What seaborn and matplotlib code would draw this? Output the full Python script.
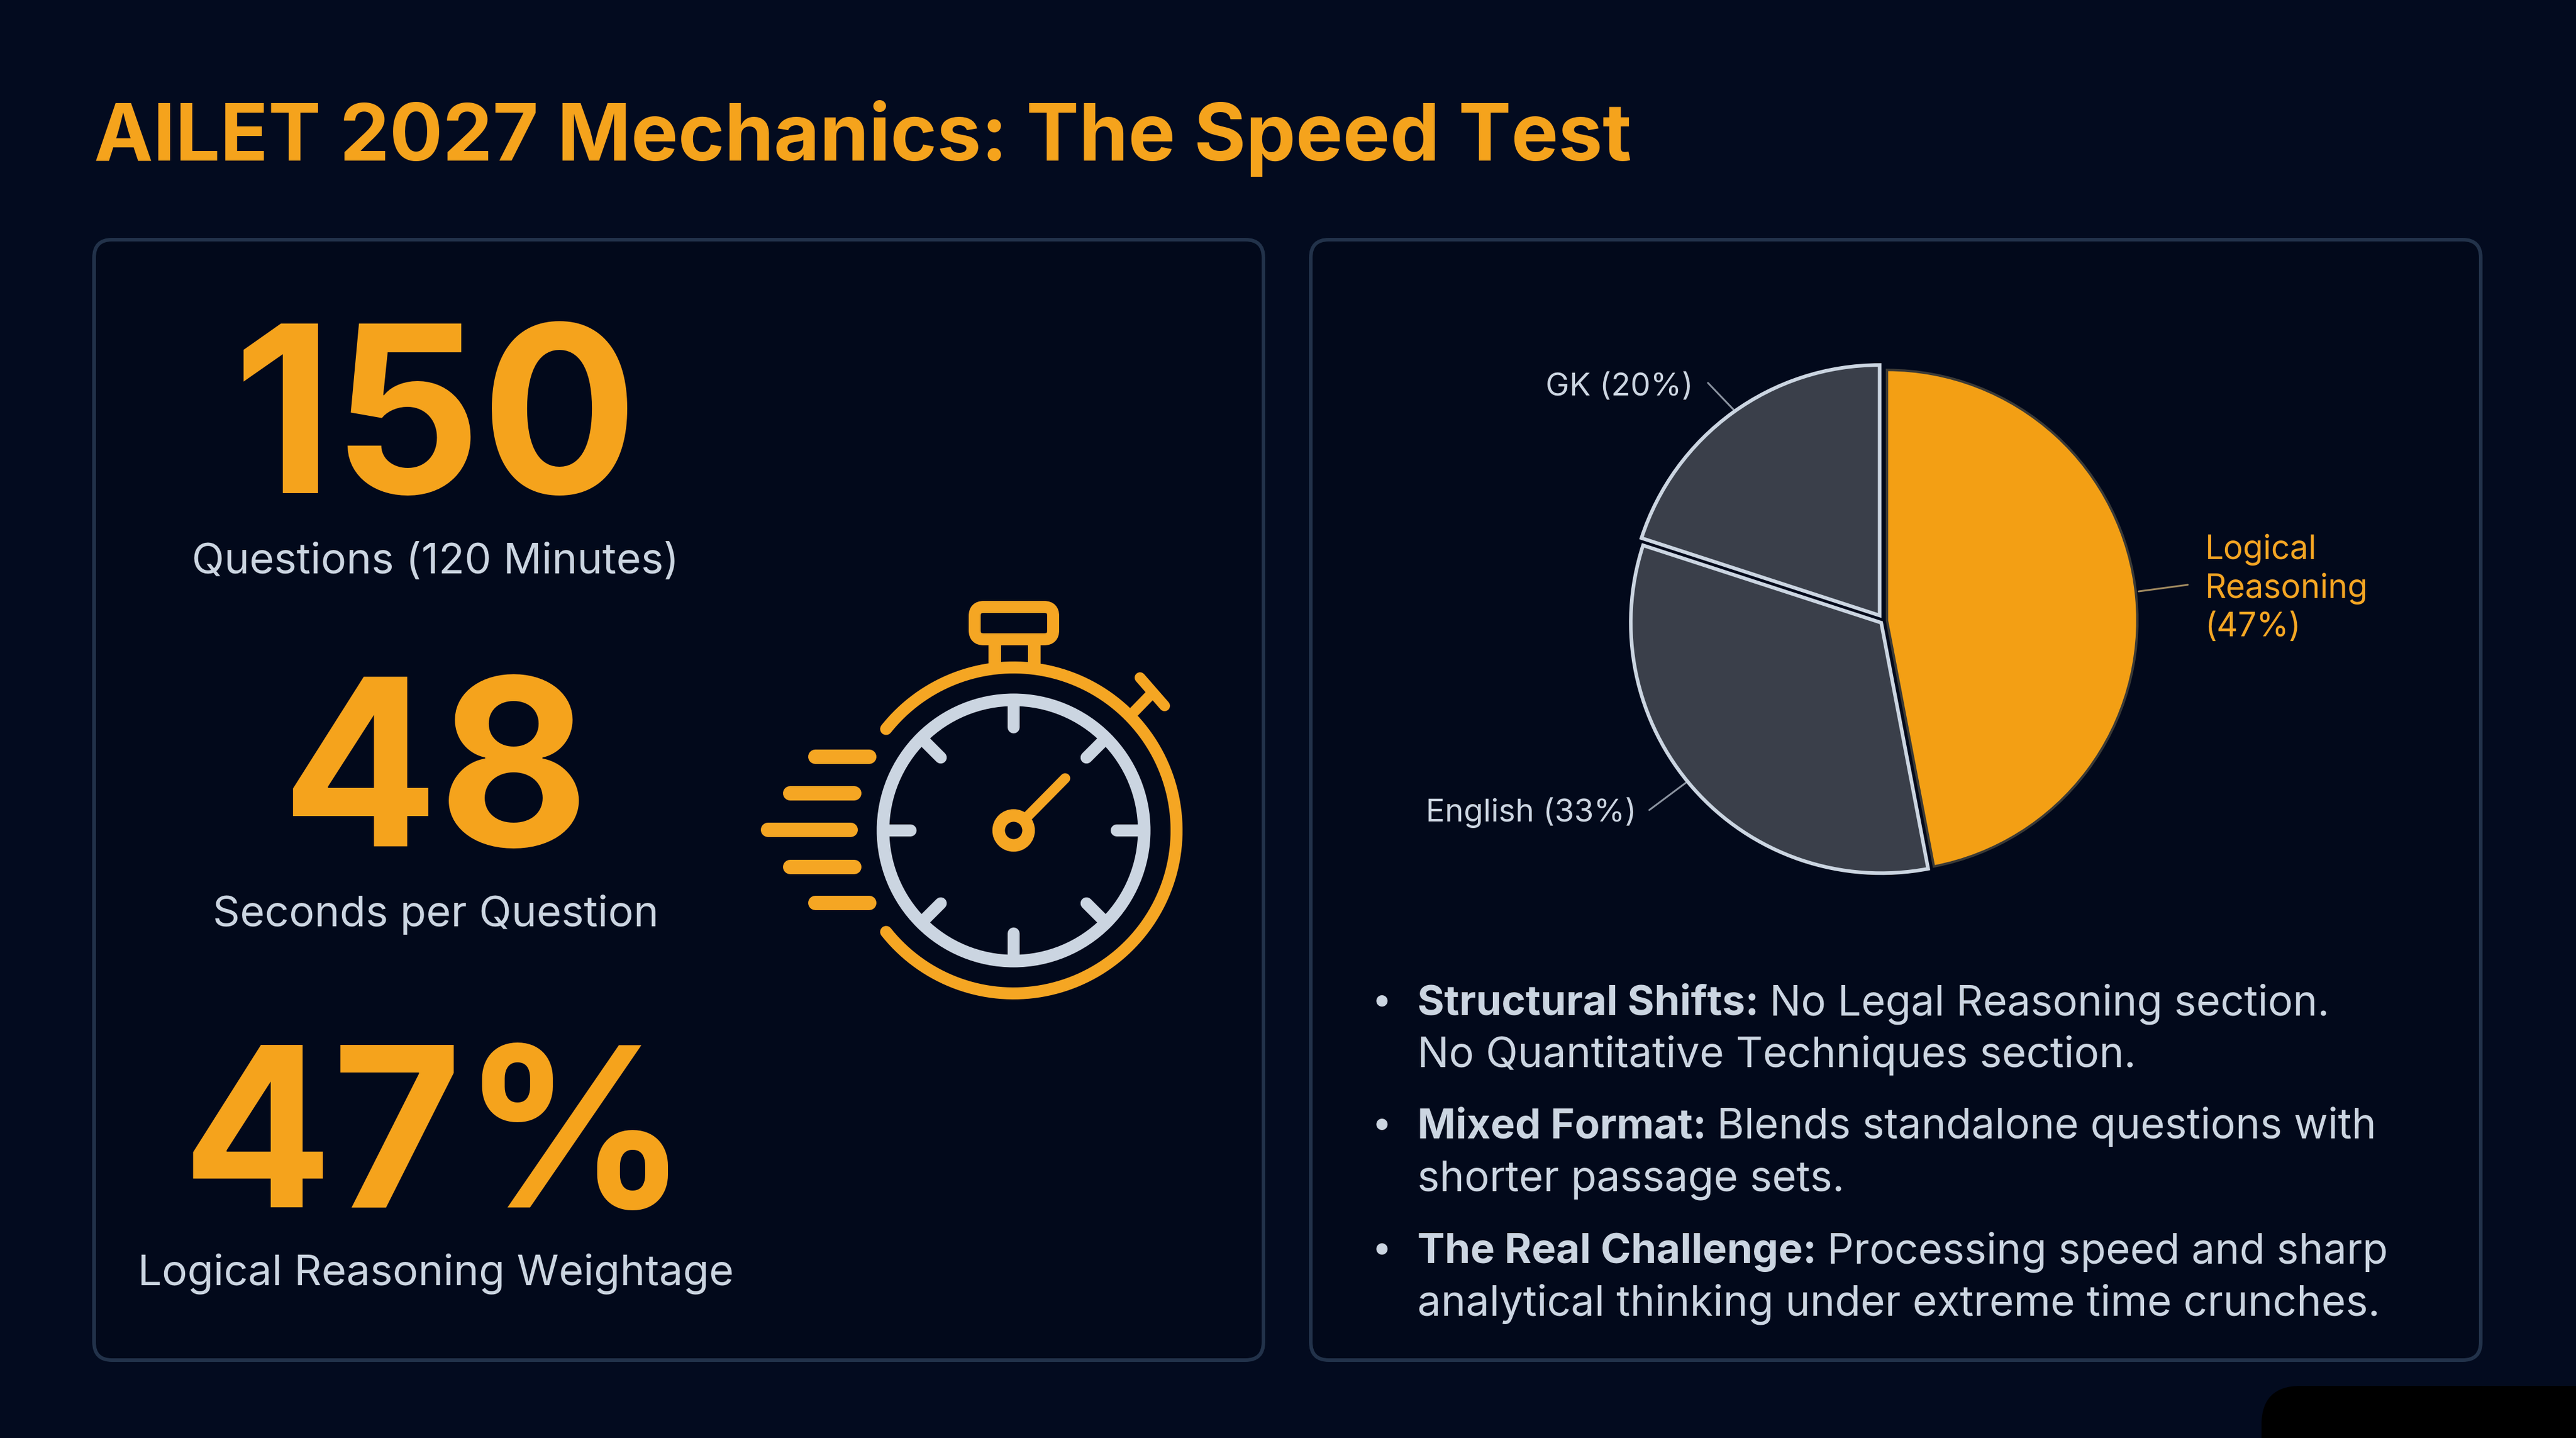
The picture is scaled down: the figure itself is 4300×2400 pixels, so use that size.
import numpy as np
import matplotlib
matplotlib.use("Agg")
import matplotlib.pyplot as plt
from matplotlib.patches import FancyBboxPatch, Circle
import seaborn as sns

# data
slice_names = ["Logical\nReasoning\n(47%)", "English (33%)", "GK (20%)"]
slice_values = [47, 33, 20]
big_numbers = ["150", "48", "47%"]
big_labels = ["Questions (120 Minutes)", "Seconds per Question", "Logical Reasoning Weightage"]
bullet_heads = ["Structural Shifts:", "Mixed Format:", "The Real Challenge:"]
bullet_first = ["No Legal Reasoning section.", "Blends standalone questions with", "Processing speed and sharp"]
bullet_second = ["No Quantitative Techniques section.", "shorter passage sets.", "analytical thinking under extreme time crunches."]
title = "AILET 2027 Mechanics: The Speed Test"

BG = "#030b1f"
PANEL = "#02091b"
BORDER = "#22324a"
ORANGE = "#f5a31c"
PIE_ORANGE = "#f39f14"
ICON = "#f5a623"
LIGHT = "#cbd5e1"
GREY = "#3a3f4a"

sns.set_theme(style="dark", rc={"figure.facecolor": BG, "axes.facecolor": BG})
plt.rcParams["font.family"] = ["Inter", "DejaVu Sans"]
palette = sns.color_palette([PIE_ORANGE, GREY, GREY])


def pt(px):
    return px * 0.72


fig = plt.figure(figsize=(43, 24), dpi=100, facecolor=BG)
# overlay axes in pixel coordinates
ax = fig.add_axes([0, 0, 1, 1])
ax.set_xlim(0, 4300)
ax.set_ylim(2400, 0)
ax.axis("off")

# panels
for x0, x1 in [(157, 2109), (2188, 4141)]:
    ax.add_patch(FancyBboxPatch((x0 + 30, 430), x1 - x0 - 60, 1810,
                                boxstyle="round,pad=30,rounding_size=30",
                                fc=PANEL, ec=BORDER, lw=pt(6)))

# black blob bottom right
ax.add_patch(FancyBboxPatch((3840, 2378), 700, 100, boxstyle="round,pad=65,rounding_size=65",
                            fc="black", ec="none", clip_on=True))

ax.text(157, 268, title, color=ORANGE, fontsize=pt(132), fontweight="bold", va="baseline")

# left stats
num_y = [823, 1412, 2015]
num_px = [388, 388, 372]
num_x = [727, 727, 727]
lab_y = [957, 1546, 2144]
for num, lab, x, y1, y2, size in zip(big_numbers, big_labels, num_x, num_y, lab_y, num_px):
    ax.text(x, y1, num, color=ORANGE, fontsize=pt(size), fontweight="bold", ha="center", va="baseline")
    ax.text(727, y2, lab, color=LIGHT, fontsize=pt(71), ha="center", va="baseline")

# stopwatch
cx, cy = 1692, 1386


def stroke(xs, ys, color, width, cap="round"):
    ax.plot(xs, ys, color=color, lw=pt(width), solid_capstyle=cap)


for y, x0, x1 in [(1263, 1361, 1451), (1324, 1319, 1426), (1385, 1282, 1420), (1447, 1319, 1426), (1507, 1361, 1451)]:
    stroke([x0, x1], [y, y], ICON, 24)

t = np.radians(np.linspace(-141.5, 141.5, 300))
stroke(cx + 272 * np.cos(t), cy - 272 * np.sin(t), ICON, 20)
ax.add_patch(Circle((cx, cy), 218, fc="none", ec=LIGHT, lw=pt(21)))
for a in np.radians(np.arange(0, 360, 45)):
    stroke([cx + 215 * np.cos(a), cx + 172 * np.cos(a)], [cy + 215 * np.sin(a), cy + 172 * np.sin(a)], LIGHT, 20)

# crown and buttons
ax.add_patch(FancyBboxPatch((1642, 1028), 101, 24, boxstyle="round,pad=15,rounding_size=15",
                            fc="none", ec=ICON, lw=pt(20)))
stroke([1660, 1660], [1075, 1118], ICON, 21, "butt")
stroke([1726, 1726], [1075, 1118], ICON, 21, "butt")
stroke([1889, 1925], [1192, 1155], ICON, 18, "butt")
stroke([1903, 1944], [1131, 1178], ICON, 18)

# hand
stroke([cx + 18, 1778], [cy - 18, 1299], ICON, 17)
ax.add_patch(Circle((cx, cy), 25, fc="none", ec=ICON, lw=pt(21)))

# pie
pie_cx, pie_cy, pie_r = 3144, 1036, 418
pad = 1.1
pie_ax = fig.add_axes([(pie_cx - pie_r * pad) / 4300, 1 - (pie_cy + pie_r * pad) / 2400,
                       2 * pie_r * pad / 4300, 2 * pie_r * pad / 2400])
wedges, _ = pie_ax.pie(slice_values, colors=palette, startangle=90, counterclock=False,
                       explode=[0.014, 0.012, 0.026], radius=1)
pie_ax.set_xlim(-pad, pad)
pie_ax.set_ylim(-pad, pad)
pie_ax.set_facecolor("none")
wedges[0].set(edgecolor="#3b3a36", linewidth=pt(4))
wedges[1].set(edgecolor=LIGHT, linewidth=pt(6))
wedges[2].set(edgecolor=LIGHT, linewidth=pt(6))

# pie labels and leader lines
ax.text(2580, 660, slice_names[2], color=LIGHT, fontsize=pt(53), va="baseline")
ax.text(2380, 1371, slice_names[1], color=LIGHT, fontsize=pt(53), va="baseline")
ax.text(3680, 982, slice_names[0], color=ICON, fontsize=pt(55), va="center", linespacing=1.3)
ax.plot([2851, 2896], [639, 686], color="#8a93a0", lw=pt(3), zorder=1)
ax.plot([2753, 2816], [1352, 1305], color="#8a93a0", lw=pt(3), zorder=1)
ax.plot([3570, 3652], [987, 976], color="#a08a60", lw=pt(3), zorder=1)

# bullets
fig.canvas.draw()
rend = fig.canvas.get_renderer()
inv = ax.transData.inverted()
first_y = [1694, 1900, 2108]
second_y = [1781, 1987, 2195]
for head, a, b, y1, y2 in zip(bullet_heads, bullet_first, bullet_second, first_y, second_y):
    ax.text(2306, y1 - 22, "•", color=LIGHT, fontsize=pt(60), ha="center", va="center")
    h = ax.text(2366, y1, head, color=LIGHT, fontsize=pt(68.5), fontweight="bold", va="baseline")
    end = inv.transform((h.get_window_extent(rend).x1, 0))[0]
    ax.text(end + 18, y1, a, color=LIGHT, fontsize=pt(69.5), va="baseline")
    ax.text(2366, y2, b, color=LIGHT, fontsize=pt(70), va="baseline")

fig.savefig("out.png", dpi=100, facecolor=BG)
